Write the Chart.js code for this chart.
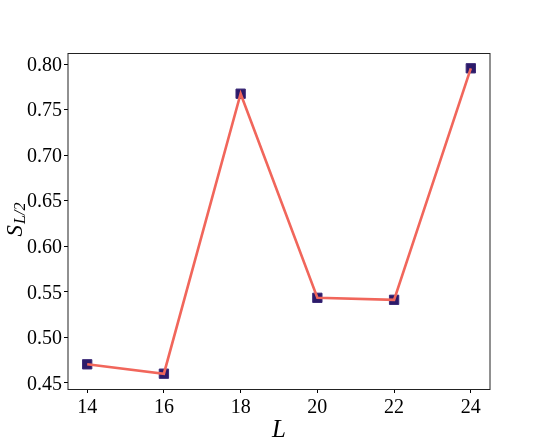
<!DOCTYPE html>
<html>
<head>
<meta charset="utf-8">
<script src="https://cdn.jsdelivr.net/npm/chart.js@4.4.1/dist/chart.umd.min.js"></script>
<style>
  html, body { margin: 0; padding: 0; background: #fff; }
  #wrap { width: 544px; height: 445px; }
</style>
</head>
<body>
<div id="wrap"><canvas id="entChart"></canvas></div>
<script>
// Data
const sizesL = [14, 16, 18, 20, 22, 24];
const entropyS = [0.4704, 0.4601, 0.7675, 0.5434, 0.5412, 0.7954];
const xTickValues = [14, 16, 18, 20, 22, 24];
const yTickValues = [0.45, 0.50, 0.55, 0.60, 0.65, 0.70, 0.75, 0.80];

const serif = "'Liberation Serif', 'DejaVu Serif', serif";

// Frame round the plot area plus the y title with its subscript
const framePlugin = {
    id: 'frame',
    afterDraw(chart) {
        const ctx = chart.ctx;
        const a = chart.chartArea;
        ctx.save();
        ctx.strokeStyle = '#222';
        ctx.lineWidth = 1;
        ctx.strokeRect(a.left, a.top + 0.5, a.right - a.left, a.bottom - a.top);

        // y axis title: S_{L/2}
        const cy = (a.top + a.bottom) / 2 - 1;
        ctx.translate(22, cy);
        ctx.rotate(-Math.PI / 2);
        ctx.fillStyle = '#000';
        ctx.textBaseline = 'alphabetic';
        ctx.font = 'italic 23px ' + serif;
        const wS = ctx.measureText('S').width;
        ctx.font = 'italic 16px ' + serif;
        const wSub = ctx.measureText('L/2').width;
        const x0 = -(wS + wSub) / 2;
        ctx.font = 'italic 23px ' + serif;
        ctx.fillText('S', x0, 0);
        ctx.font = 'italic 16px ' + serif;
        ctx.fillText('L/2', x0 + wS + 1, 3);
        ctx.restore();
    }
};

const ctx = document.getElementById('entChart').getContext('2d');
const entChart = new Chart(ctx, {
    type: 'scatter',
    data: {
        datasets: [{
            label: 'line',
            data: sizesL.map((l, i) => ({x: l, y: entropyS[i]})),
            showLine: true,
            borderColor: '#f1665b',
            borderWidth: 2.6,
            pointRadius: 0,
            tension: 0
        }, {
            label: 'markers',
            data: sizesL.map((l, i) => ({x: l, y: entropyS[i]})),
            showLine: false,
            backgroundColor: '#2c1a6a',
            borderColor: '#3c2b78',
            borderWidth: 1,
            pointStyle: 'rect',
            pointRadius: 6.6
        }]
    },
    options: {
        responsive: true,
        maintainAspectRatio: false,
        animation: false,
        layout: { padding: { top: 53, right: 54, left: 0, bottom: 0 } },
        plugins: {
            legend: { display: false },
            tooltip: { enabled: false }
        },
        scales: {
            x: {
                type: 'linear',
                min: 13.5,
                max: 24.5,
                afterBuildTicks: scale => {
                    scale.ticks = xTickValues.map(v => ({value: v}));
                },
                afterFit: scale => { scale.height = 56; },
                border: { display: false },
                grid: {
                    drawOnChartArea: false,
                    drawTicks: true,
                    tickLength: 4,
                    color: '#000',
                    lineWidth: 1
                },
                ticks: {
                    color: '#000',
                    padding: 3,
                    font: { family: serif, size: 20 },
                    callback: v => String(v)
                },
                title: {
                    display: true,
                    text: 'L',
                    color: '#000',
                    padding: 0,
                    font: { family: serif, size: 25, style: 'italic' }
                }
            },
            y: {
                type: 'linear',
                min: 0.4433,
                max: 0.8122,
                afterBuildTicks: scale => {
                    scale.ticks = yTickValues.map(v => ({value: v}));
                },
                afterFit: scale => { scale.width = 68; },
                border: { display: false },
                grid: {
                    drawOnChartArea: false,
                    drawTicks: true,
                    tickLength: 4,
                    color: '#000',
                    lineWidth: 1
                },
                ticks: {
                    color: '#000',
                    padding: 2,
                    labelOffset: 1.5,
                    font: { family: serif, size: 20 },
                    callback: v => Number(v).toFixed(2)
                }
            }
        }
    },
    plugins: [framePlugin]
});
</script>
</body>
</html>
